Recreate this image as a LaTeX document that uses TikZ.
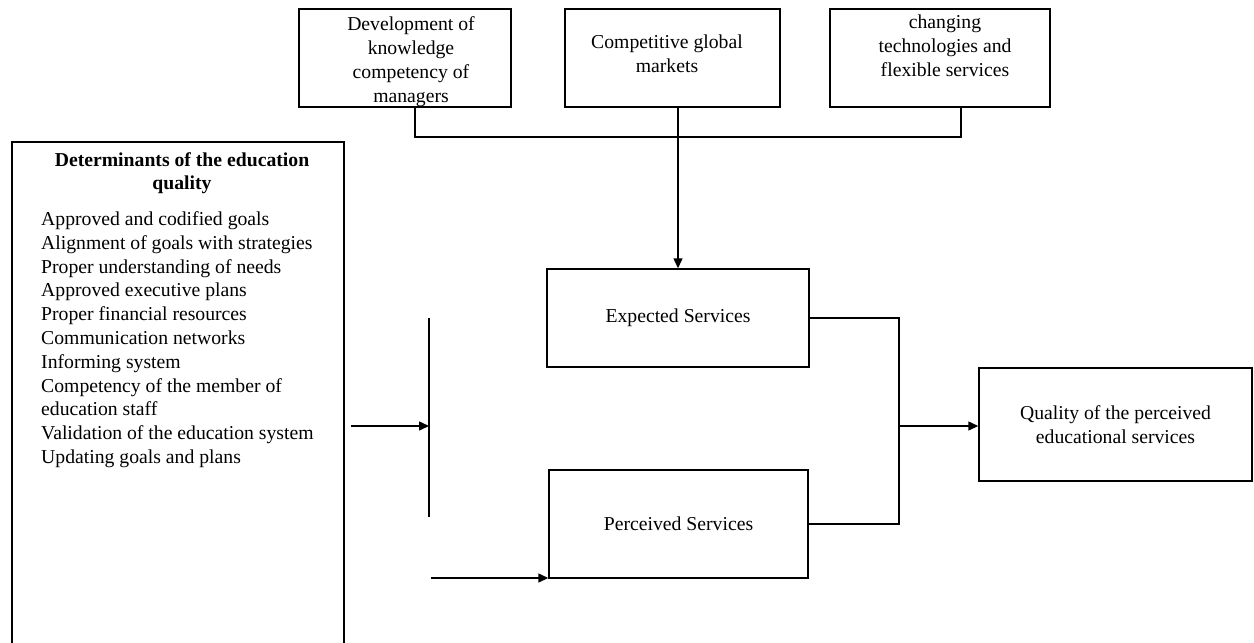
\documentclass[tikz,border=0pt]{standalone}
\usepackage{fontspec}
\setmainfont{Liberation Serif}
\usetikzlibrary{arrows.meta}
\begin{document}
\begin{tikzpicture}[x=1pt,y=-1pt,
  box/.style={draw, line width=1.5pt, inner sep=0pt},
  txt/.style={font=\fontsize{19.7}{24}\selectfont, inner sep=0pt, align=center},
  conn/.style={line width=1.5pt},
  arr/.style={line width=1.5pt, -{Triangle[length=10pt,width=9pt]}}]
\useasboundingbox (0,0) rectangle (1254,643);
\clip (0,0) rectangle (1254,643);
% top boxes
\node[box, minimum width=212pt, minimum height=98pt] (A) at (405,58) {};
\node[txt, anchor=north] (At) at (411,16.5) {Development of\\knowledge\\competency of\\managers};
\node[box, minimum width=215pt, minimum height=98pt] (B) at (672.5,58) {};
\node[txt, anchor=north] (Bt) at (667,34.5) {Competitive global\\markets};
\node[box, minimum width=220pt, minimum height=98pt] (C) at (940,58) {};
\node[txt, anchor=north] (Ct) at (945,14.5) {changing\\technologies and\\flexible services};
% left box
\node[box, minimum width=332pt, minimum height=558pt] (L) at (178,421) {};
\node[txt, font=\fontsize{19.7}{23}\selectfont\bfseries, anchor=north] (Lt) at (182,152.5) {Determinants of the education\\quality};
\node[txt, font=\fontsize{19.7}{23.8}\selectfont, align=left, anchor=north west] (Li) at (41,211.5) {Approved and codified goals\\Alignment of goals with strategies\\Proper understanding of needs\\Approved executive plans\\Proper financial resources\\Communication networks\\Informing system\\Competency of the member of\\education staff\\Validation of the education system\\Updating goals and plans};
% middle boxes
\node[box, txt, minimum width=262pt, minimum height=98pt] (E) at (678,318) {Expected Services};
\node[box, txt, minimum width=259pt, minimum height=108pt] (P) at (678.5,524) {Perceived Services};
\node[box, txt, minimum width=273pt, minimum height=113pt] (Q) at (1115.5,424.5) {Quality of the perceived\\educational services};
% coordinates
\coordinate (hubL) at (415,137);
\coordinate (hubR) at (961,137);
\coordinate (barT) at (429,318);
\coordinate (barM) at (429,426);
\coordinate (barB) at (429,517);
\coordinate (pin) at (431,578);
\coordinate (jR) at (899,426);
% connectors
\draw[conn] (A.south -| hubL) -- (hubL) -- (hubR) -- (C.south -| hubR);
\draw[arr] (E.north |- B.south) -- (E.north);
\draw[conn] (barT) -- (barB);
\draw[arr] ([xshift=6pt]L.east |- barM) -- (barM);
\draw[arr] (pin) -- (pin -| P.west);
\draw[conn] (E.east) -| (jR |- P.east) -- (P.east);
\draw[arr] (jR) -- (jR -| Q.west);
\end{tikzpicture}
\end{document}
